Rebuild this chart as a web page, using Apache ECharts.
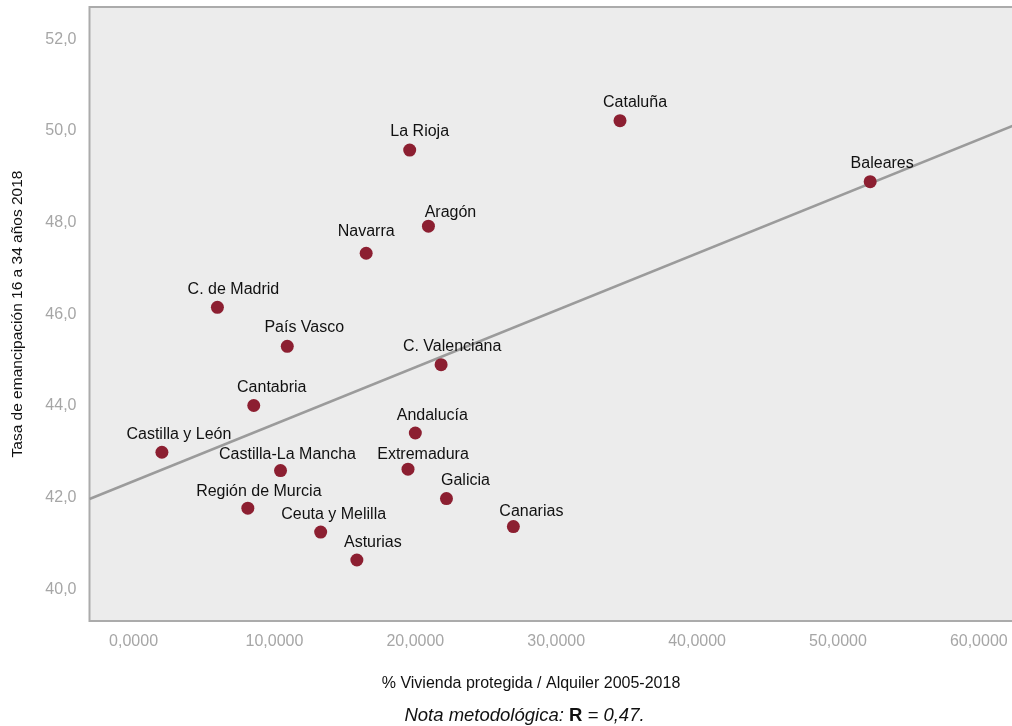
<!DOCTYPE html>
<html>
<head>
<meta charset="utf-8">
<script src="https://cdn.jsdelivr.net/npm/echarts@6/dist/echarts.min.js"></script>
<style>
html,body{margin:0;padding:0;background:#fff;}
#c{width:1012px;height:726px;}
</style>
</head>
<body>
<div id="c"></div>
<script>
// ---- data ----
const regions = ["Cataluña","La Rioja","Baleares","Aragón","Navarra","C. de Madrid","País Vasco","C. Valenciana","Cantabria","Andalucía","Castilla y León","Castilla-La Mancha","Extremadura","Galicia","Región de Murcia","Canarias","Ceuta y Melilla","Asturias"];
const viviendaProtegida = [34.53,19.60,52.29,20.93,16.51,5.95,10.91,21.83,8.53,20.00,2.01,10.43,19.48,22.21,8.11,26.96,13.28,15.85];
const tasaEmancipacion = [50.22,49.58,48.89,47.92,47.33,46.15,45.30,44.90,44.01,43.41,42.99,42.59,42.62,41.98,41.77,41.37,41.25,40.64];
const trendX = [-3.13, 62.57];
const trendY = [41.97, 50.13];
const xAxisTitle = "% Vivienda protegida / Alquiler 2005-2018";
const yAxisTitle = "Tasa de emancipación 16 a 34 años 2018";
const notaLabel = "Nota metodológica:";
const notaR = "0,47.";

// ---- label layout (pixel nudges relative to dot centre) ----
const labelNudge = {
  "Cataluña":[15,-18],"La Rioja":[10,-18],"Baleares":[12,-18],"Aragón":[22,-14],
  "Navarra":[0,-22],"C. de Madrid":[16,-18],"País Vasco":[17,-19],"C. Valenciana":[11,-18],
  "Cantabria":[18,-18],"Andalucía":[17,-17],"Castilla y León":[17,-18],"Castilla-La Mancha":[7,-16],
  "Extremadura":[15,-15],"Galicia":[19,-18],"Región de Murcia":[11,-17],"Canarias":[18,-15],
  "Ceuta y Melilla":[13,-17],"Asturias":[16,-17]
};

const FONT = "'Liberation Sans', Arial, sans-serif";
const chart = echarts.init(document.getElementById('c'), null, {renderer:'canvas'});

const scatterData = regions.map((n,i)=>({name:n, value:[viviendaProtegida[i], tasaEmancipacion[i]]}));

const isMult = (v, step) => Math.abs(v - Math.round(v/step)*step) < 1e-6;

chart.setOption({
  animation:false,
  textStyle:{fontFamily:FONT},
  grid:{left:89.5, top:7, right:-3, bottom:105, show:true, backgroundColor:'#ececec', borderColor:'#ababab', borderWidth:2,
        containLabel:false, outerBoundsMode:'none'},
  xAxis:{
    type:'value', min:trendX[0], max:trendX[1], minInterval:10, maxInterval:10,
    axisLine:{show:false}, axisTick:{show:false}, splitLine:{show:false},
    axisLabel:{color:'#a6a6a6', fontSize:16, margin:13, fontFamily:FONT,
      formatter:v=> isMult(v,10) ? v.toFixed(4).replace('.',',') : ''}
  },
  yAxis:{
    type:'value', min:39.31, max:52.70, minInterval:2, maxInterval:2, splitNumber:7,
    axisLine:{show:false}, axisTick:{show:false}, splitLine:{show:false},
    axisLabel:{color:'#a6a6a6', fontSize:16, margin:13, fontFamily:FONT,
      formatter:v=> isMult(v,2) ? v.toFixed(1).replace('.',',') : ''},
    name:yAxisTitle, nameLocation:'middle', nameGap:64, nameRotate:90,
    nameTextStyle:{color:'#111', fontSize:15.5, fontFamily:FONT, padding:[0,0,0,0]}
  },
  series:[
    {type:'line', data:trendX.map((x,i)=>[x,trendY[i]]), symbol:'none', silent:true,
     lineStyle:{color:'#9b9b9b', width:2.5}, z:1},
    {type:'scatter', data:scatterData, symbolSize:13, z:3,
     itemStyle:{color:'#8c1f31', opacity:1},
     label:{show:true, position:'inside', formatter:'{b}', color:'#111', fontSize:16, fontFamily:FONT, align:'center', verticalAlign:'middle'},
     labelLayout:function(p){
       const n = regions[p.dataIndex];
       const d = labelNudge[n] || [0,-18];
       return {dx:d[0], dy:d[1], hideOverlap:false};
     }
    }
  ],
  graphic:[
    {type:'text', x:531, y:684, style:{text:xAxisTitle, font:"16px 'Liberation Sans', Arial, sans-serif", fill:'#111', textAlign:'center', textVerticalAlign:'middle'}},
    {type:'text', x:524.5, y:716, style:{
      text:'{i|'+notaLabel+' }{b|R}{i| = '+notaR+'}',
      textAlign:'center', textVerticalAlign:'middle',
      rich:{
        i:{fontStyle:'italic', fontSize:18.5, fontFamily:FONT, fill:'#111'},
        b:{fontWeight:'bold', fontSize:18.5, fontFamily:FONT, fill:'#111'}
      }}}
  ]
});
</script>
</body>
</html>
